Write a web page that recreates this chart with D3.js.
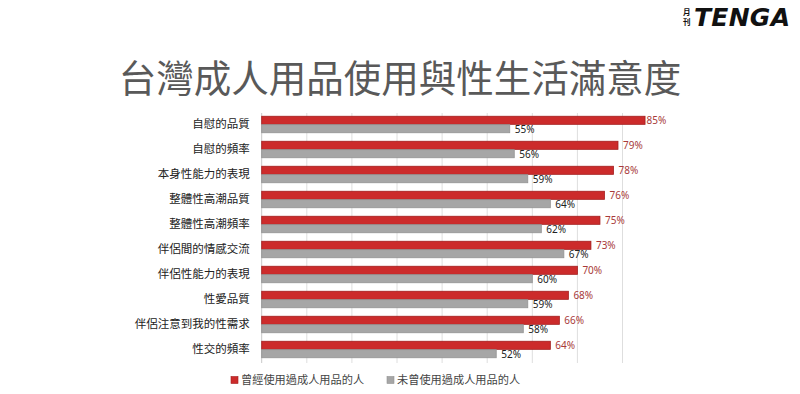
<!DOCTYPE html>
<html>
<head>
<meta charset="utf-8">
<script src="https://cdn.jsdelivr.net/npm/d3@7"></script>
<style>
  body { margin: 0; background: #fff; }
  svg { display: block; font-family: "Noto Sans CJK TC", "Noto Sans", sans-serif; }
</style>
</head>
<body>
<div id="chart"></div>
<script>
// categories and values
var categories = ["自慰的品質", "自慰的頻率", "本身性能力的表現", "整體性高潮品質", "整體性高潮頻率",
                  "伴侶間的情感交流", "伴侶性能力的表現", "性愛品質", "伴侶注意到我的性需求", "性交的頻率"];
var usedValues = [85, 79, 78, 76, 75, 73, 70, 68, 66, 64];
var notUsedValues = [55, 56, 59, 64, 62, 67, 60, 59, 58, 52];
var seriesNames = ["曾經使用過成人用品的人", "未曾使用過成人用品的人"];
var gridTicks = [0, 10, 20, 30, 40, 50, 60, 70, 80];

var width = 800, height = 394;
var colors = { used: "#cc2b2b", usedStroke: "#a31d1d", notUsed: "#a6a6a6", notUsedStroke: "#939393" };

var svg = d3.select("#chart").append("svg")
  .attr("width", width)
  .attr("height", height);

// title
svg.append("text")
  .attr("x", 400)
  .attr("y", 92)
  .attr("text-anchor", "middle")
  .style("font-size", "37.5px")
  .style("fill", "#595959")
  .text("台灣成人用品使用與性生活滿意度");

// logo, top right
var logo = svg.append("g").attr("transform", "translate(683,0)");
logo.append("text").attr("x", 0).attr("y", 15)
  .style("font-size", "7.5px").style("font-weight", "bold").style("fill", "#111").text("月");
logo.append("text").attr("x", 0).attr("y", 25)
  .style("font-size", "7.5px").style("font-weight", "bold").style("fill", "#111").text("刊");
logo.append("text").attr("x", 11).attr("y", 26)
  .style("font-family", "'DejaVu Sans', sans-serif")
  .style("font-size", "25px").style("font-weight", "bold").style("font-style", "italic")
  .attr("textLength", 96)
  .style("fill", "#111").text("TENGA");

var x = d3.scaleLinear().domain([0, 90]).range([261.7, 667.6]);
var y = d3.scaleBand().domain(categories).range([112, 362]).paddingInner(0.34).paddingOuter(0.17);
var sub = d3.scaleBand().domain(["used", "notUsed"]).range([0, y.bandwidth()]).paddingInner(0.04);

// gridlines
svg.append("g").selectAll("line")
  .data(gridTicks)
  .enter().append("line")
  .attr("x1", function(d) { return x(d); })
  .attr("x2", function(d) { return x(d); })
  .attr("y1", 113)
  .attr("y2", 363)
  .style("stroke", function(d) { return d === 0 ? "#c8c8c8" : "#dedede"; })
  .style("stroke-width", 1);

// category labels
var yAxis = d3.axisLeft(y).tickSize(0).tickPadding(12);
var gy = svg.append("g").attr("transform", "translate(" + x(0) + ",0)").call(yAxis);
gy.select(".domain").remove();
gy.selectAll("text")
  .style("font-family", "'Noto Sans CJK TC', sans-serif")
  .style("font-size", "11.5px")
  .style("fill", "#222");

var rows = categories.map(function(c, i) {
  return { cat: c, used: usedValues[i], notUsed: notUsedValues[i] };
});

var groups = svg.append("g").selectAll("g")
  .data(rows)
  .enter().append("g")
  .attr("transform", function(d) { return "translate(0," + y(d.cat) + ")"; });

["used", "notUsed"].forEach(function(key) {
  groups.append("rect")
    .attr("x", x(0))
    .attr("y", sub(key))
    .attr("width", function(d) { return x(d[key]) - x(0); })
    .attr("height", sub.bandwidth())
    .style("fill", colors[key])
    .style("stroke", colors[key + "Stroke"])
    .style("stroke-width", 0.8);

  groups.append("text")
    .attr("x", function(d) { return Math.min(x(d[key]) + 5, x(90) - 21); })
    .attr("y", sub(key) + sub.bandwidth() / 2 + (key === "notUsed" ? 0.8 : 0))
    .attr("dy", "0.36em")
    .style("font-family", "'Noto Sans', sans-serif")
    .style("font-size", "10px")
    .style("fill", key === "used" ? "#a83a3a" : "#222")
    .text(function(d) { return d[key] + "%"; });
});

// legend
var legendX = [231, 387];
var legend = svg.append("g").selectAll("g")
  .data(seriesNames)
  .enter().append("g")
  .attr("transform", function(d, i) { return "translate(" + legendX[i] + ",380)"; });

legend.append("rect")
  .attr("x", 0).attr("y", -3.5)
  .attr("width", 7).attr("height", 7)
  .style("fill", function(d, i) { return i === 0 ? colors.used : colors.notUsed; })
  .style("stroke", function(d, i) { return i === 0 ? colors.usedStroke : colors.notUsedStroke; })
  .style("stroke-width", 0.6);

legend.append("text")
  .attr("x", 10).attr("y", 0).attr("dy", "0.36em")
  .style("font-size", "11.2px")
  .style("fill", "#444")
  .text(function(d) { return d; });
</script>
</body>
</html>
